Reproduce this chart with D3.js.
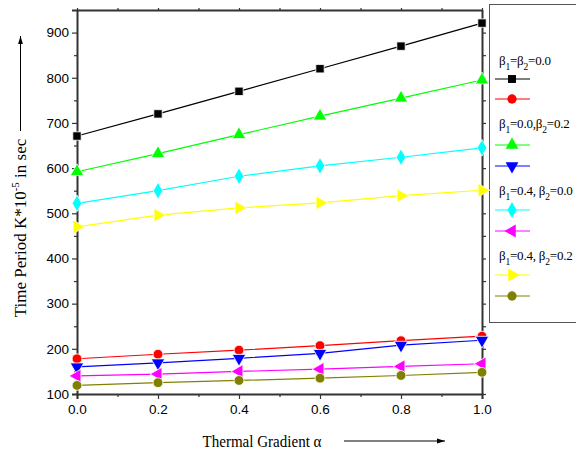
<!DOCTYPE html>
<html>
<head>
<meta charset="utf-8">
<script src="https://cdn.jsdelivr.net/npm/d3@7"></script>
<style>
  body { margin: 0; background: #fff; }
  svg { display: block; }
</style>
</head>
<body>
<div id="chart"></div>
<script>
var w = 576;
var h = 451;

var alphaVals = [0.0, 0.2, 0.4, 0.6, 0.8, 1.0];
var blackVals = [671, 720, 770, 820, 870, 921];
var redVals = [178, 188, 197, 207, 218, 228];
var greenVals = [592, 632, 674, 715, 755, 795];
var blueVals = [160, 169, 179, 190, 208, 219];
var cyanVals = [522, 550, 582, 605, 624, 645];
var magentaVals = [140, 144, 150, 155, 161, 167];
var yellowVals = [470, 496, 512, 523, 539, 551];
var oliveVals = [119, 125, 130, 135, 141, 148];

var yTicks = [100, 200, 300, 400, 500, 600, 700, 800, 900];
var xTicks = [0.0, 0.2, 0.4, 0.6, 0.8, 1.0];

var series = [
  { vals: blackVals, color: "#000000", sym: d3.symbolSquare, size: 70, rot: 0 },
  { vals: redVals, color: "#ff0000", sym: d3.symbolCircle, size: 75, rot: 0 },
  { vals: greenVals, color: "#00ff00", sym: d3.symbolTriangle, size: 80, rot: 0 },
  { vals: blueVals, color: "#0000ff", sym: d3.symbolTriangle, size: 80, rot: 180 },
  { vals: cyanVals, color: "#00ffff", sym: d3.symbolDiamond, size: 80, rot: 0 },
  { vals: magentaVals, color: "#ff00ff", sym: d3.symbolTriangle, size: 80, rot: -90 },
  { vals: yellowVals, color: "#ffff00", sym: d3.symbolTriangle, size: 80, rot: 90 },
  { vals: oliveVals, color: "#808000", sym: d3.symbolCircle, size: 75, rot: 0 }
];

// header text pieces: [text, subscript]
var headers = [
  [["β", "1"], ["=β", "2"], ["=0.0", null]],
  [["β", "1"], ["=0.0,β", "2"], ["=0.2", null]],
  [["β", "1"], ["=0.4, β", "2"], ["=0.0", null]],
  [["β", "1"], ["=0.4, β", "2"], ["=0.2", null]]
];

var svg = d3.select("#chart").append("svg").attr("width", w).attr("height", h);

var x = d3.scaleLinear().domain([0, 1]).range([77, 482]);
var y = d3.scaleLinear().domain([100, 950]).range([394, 10]);

// legend box (runs off the right edge)
svg.append("rect")
  .attr("x", 489.5).attr("y", 4.5)
  .attr("width", 120).attr("height", 318)
  .attr("fill", "none").attr("stroke", "#555").attr("stroke-width", 1);

// axes
svg.append("g").attr("transform", "translate(77,0)")
  .call(d3.axisLeft(y).tickValues(yTicks).tickSize(5).tickPadding(3).tickFormat(d3.format("d")));
svg.append("g").attr("transform", "translate(0,394)")
  .call(d3.axisBottom(x).tickValues(xTicks).tickSize(5).tickPadding(5).tickFormat(d3.format(".1f")));

svg.append("g").attr("transform", "translate(77,0)")
  .call(d3.axisLeft(y).tickValues(d3.range(150, 950, 100)).tickSize(3).tickFormat(""))
  .select(".domain").remove();
svg.append("g").attr("transform", "translate(0,394)")
  .call(d3.axisBottom(x).tickValues(d3.range(0.1, 1, 0.2)).tickSize(3).tickFormat(""))
  .select(".domain").remove();

// right and top frame
svg.append("g").attr("transform", "translate(482,0)")
  .call(d3.axisLeft(y).tickValues(d3.range(100, 950, 50)).tickSize(-4).tickFormat(""))
  .select(".domain").attr("d", "M0.5,394V10");
svg.append("g").attr("transform", "translate(0,10)")
  .call(d3.axisTop(x).tickValues(d3.range(0, 1.01, 0.1)).tickSize(2).tickFormat(""))
  .select(".domain").attr("d", "M77,0.5H482");

svg.selectAll(".domain").attr("stroke", "#333").attr("stroke-width", 2);
svg.selectAll(".tick line").attr("stroke", "#333").attr("stroke-width", 1.2);
svg.selectAll(".tick text")
  .attr("font-family", "Liberation Sans, Arial, sans-serif")
  .attr("font-size", "13.5px").attr("fill", "#000");

// lines and markers
var line = d3.line()
  .x(function (d, i) { return x(alphaVals[i]); })
  .y(function (d) { return y(d); });

series.forEach(function (s) {
  svg.append("path")
    .attr("d", line(s.vals))
    .attr("fill", "none")
    .attr("stroke", s.color)
    .attr("stroke-width", 1.2);

  svg.selectAll(null)
    .data(s.vals)
    .enter()
    .append("path")
    .attr("d", d3.symbol().type(s.sym).size(s.size))
    .attr("transform", function (d, i) {
      return "translate(" + x(alphaVals[i]) + "," + y(d) + ") rotate(" + s.rot + ")";
    })
    .attr("fill", s.color)
    .attr("stroke", "#fff")
    .attr("stroke-width", 0.8);
});

// legend contents
var legRowY = [79, 99, 145, 166, 210, 231, 275, 296];
var headY = [60, 123, 190, 255];

headers.forEach(function (hd, k) {
  var t = svg.append("text")
    .attr("x", 499).attr("y", headY[k] + 5)
    .attr("font-family", "Liberation Serif, Times New Roman, serif")
    .attr("font-size", "13px")
    .attr("letter-spacing", "-0.2px");
  var shift = 0;
  hd.forEach(function (p) {
    t.append("tspan").attr("dy", -shift).text(p[0]);
    shift = 0;
    if (p[1]) {
      t.append("tspan").attr("font-size", "9.5px").attr("dy", 5).text(p[1]);
      shift = 5;
    }
  });
});

series.forEach(function (s, i) {
  svg.append("line")
    .attr("x1", 495).attr("x2", 530)
    .attr("y1", legRowY[i]).attr("y2", legRowY[i])
    .attr("stroke", s.color).attr("stroke-width", 1.2);
  svg.append("path")
    .attr("d", d3.symbol().type(s.sym).size(s.size * 0.9))
    .attr("transform", "translate(512," + legRowY[i] + ") rotate(" + s.rot + ")")
    .attr("fill", s.color);
});

// axis titles
svg.append("text")
  .attr("x", 262).attr("y", 447)
  .attr("text-anchor", "middle")
  .attr("font-family", "Liberation Serif, Times New Roman, serif")
  .attr("font-size", "17px")
  .attr("textLength", 119).attr("lengthAdjust", "spacingAndGlyphs")
  .text("Thermal Gradient α");

var yt = svg.append("text")
  .attr("transform", "translate(26,228) rotate(-90)")
  .attr("text-anchor", "middle")
  .attr("font-family", "Liberation Serif, Times New Roman, serif")
  .attr("font-size", "17px");
yt.append("tspan").text("Time Period K*10");
yt.append("tspan").attr("font-size", "11px").attr("dy", -7).text("-5");
yt.append("tspan").attr("dy", 7).text(" in sec");

// arrows
svg.append("defs").append("marker")
  .attr("id", "arr").attr("viewBox", "0 0 10 10")
  .attr("refX", 10).attr("refY", 5)
  .attr("markerWidth", 8).attr("markerHeight", 8)
  .attr("orient", "auto")
  .append("path").attr("d", "M0,2L10,5L0,8Z").attr("fill", "#000");

svg.append("line")
  .attr("x1", 344).attr("x2", 445).attr("y1", 441).attr("y2", 441)
  .attr("stroke", "#000").attr("stroke-width", 1)
  .attr("marker-end", "url(#arr)");
svg.append("line")
  .attr("x1", 20.5).attr("x2", 20.5).attr("y1", 131).attr("y2", 36)
  .attr("stroke", "#000").attr("stroke-width", 1)
  .attr("marker-end", "url(#arr)");
</script>
</body>
</html>
